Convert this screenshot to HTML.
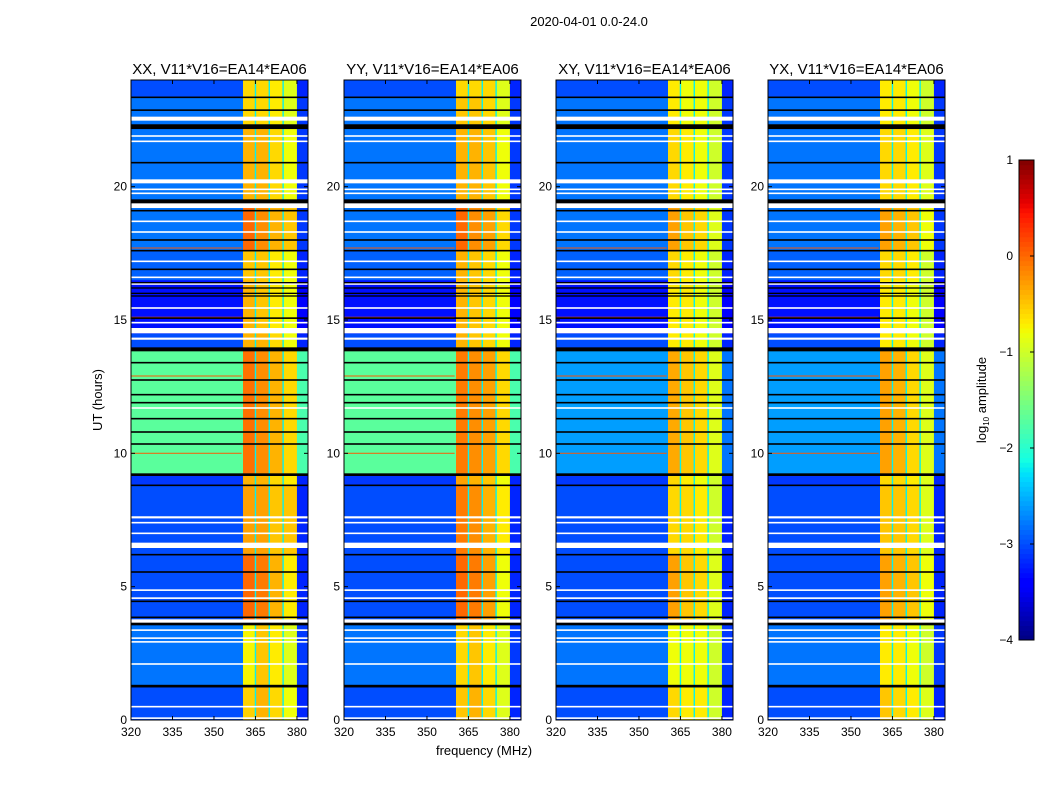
<!DOCTYPE html>
<html><head><meta charset="utf-8">
<style>
body{margin:0;background:#fff;}
svg text{font-family:"Liberation Sans",sans-serif;fill:#000;}
</style></head>
<body>
<svg id="fig" width="1050" height="800" viewBox="0 0 1050 800" xmlns="http://www.w3.org/2000/svg">
<rect width="1050" height="800" fill="#fff"/>
<text x="589" y="26" font-size="13" text-anchor="middle">2020-04-01 0.0-24.0</text>
<text x="484" y="755" font-size="13" text-anchor="middle">frequency (MHz)</text>
<text transform="translate(102,400) rotate(-90)" font-size="13" text-anchor="middle">UT (hours)</text>
<g id="panels"></g>
<g id="cbar"></g>
</svg>
<script>
// ---- data ----
const panelTitles = ["XX, V11*V16=EA14*EA06","YY, V11*V16=EA14*EA06","XY, V11*V16=EA14*EA06","YX, V11*V16=EA14*EA06"];
const freqEdges = [320,360.5,365,370,375,380,384];
const timeEdges = [0,1.27,3.6,6.2,8.8,9.2,13.9,14.5,16.5,17.6,19.4,21,22.2,23.35,24];
const panelXX = [
[-3.0,-0.55,-0.4,-0.6,-0.8,-3.2],[-2.8,-0.75,-0.5,-0.7,-0.9,-3.1],[-3.0,0.0,-0.1,-0.4,-0.7,-3.2],
[-3.0,-0.3,-0.3,-0.5,-0.5,-3.2],[-3.1,-0.4,-0.4,-0.6,-0.7,-3.2],[-1.7,-0.05,-0.2,-0.4,-0.6,-1.8],
[-3.0,-0.4,-0.4,-0.6,-0.8,-3.2],[-3.3,-0.4,-0.5,-0.7,-0.8,-3.4],[-2.9,-0.5,-0.5,-0.7,-0.8,-3.2],
[-2.8,0.0,-0.2,-0.4,-0.5,-3.1],[-2.8,-0.4,-0.4,-0.6,-0.8,-3.1],[-2.8,-0.4,-0.4,-0.6,-0.8,-3.1],
[-2.8,-0.6,-0.6,-0.7,-0.9,-3.1],[-3.0,-0.6,-0.6,-0.7,-0.9,-3.2]];
const panelYY = [
[-3.0,-0.5,-0.4,-0.6,-0.9,-3.2],[-2.8,-0.6,-0.5,-0.7,-0.9,-3.1],[-3.0,0.0,-0.1,-0.3,-0.8,-3.2],
[-3.0,-0.1,-0.2,-0.4,-0.7,-3.2],[-3.1,-0.3,-0.4,-0.5,-0.8,-3.2],[-1.7,-0.1,-0.2,-0.3,-0.6,-1.8],
[-3.0,-0.4,-0.5,-0.6,-0.8,-3.2],[-3.3,-0.4,-0.5,-0.6,-0.8,-3.4],[-2.9,-0.4,-0.5,-0.6,-0.8,-3.2],
[-2.8,0.0,-0.2,-0.3,-0.6,-3.1],[-2.8,-0.4,-0.4,-0.5,-0.8,-3.1],[-2.8,-0.4,-0.4,-0.5,-0.8,-3.1],
[-2.8,-0.5,-0.5,-0.6,-0.9,-3.1],[-3.0,-0.6,-0.6,-0.6,-0.9,-3.2]];
const panelXY = [
[-3.0,-0.6,-0.7,-0.7,-1.0,-3.2],[-2.8,-0.8,-0.8,-0.8,-1.0,-3.1],[-3.0,-0.3,-0.5,-0.6,-0.9,-3.2],
[-3.0,-0.6,-0.6,-0.7,-1.0,-3.2],[-3.1,-0.6,-0.7,-0.8,-1.0,-3.2],[-2.6,-0.35,-0.5,-0.6,-0.9,-2.8],
[-3.0,-0.7,-0.7,-0.8,-1.0,-3.2],[-3.3,-0.7,-0.7,-0.8,-1.0,-3.4],[-2.9,-0.6,-0.7,-0.8,-1.0,-3.2],
[-2.8,-0.3,-0.5,-0.6,-0.9,-3.1],[-2.8,-0.6,-0.7,-0.8,-1.0,-3.1],[-2.8,-0.6,-0.7,-0.8,-1.0,-3.1],
[-2.8,-0.7,-0.8,-0.8,-1.0,-3.1],[-3.0,-0.7,-0.8,-0.8,-1.0,-3.2]];
const panelYX = [
[-3.0,-0.5,-0.6,-0.7,-0.9,-3.2],[-2.8,-0.7,-0.7,-0.8,-1.0,-3.1],[-3.0,-0.3,-0.4,-0.5,-0.8,-3.2],
[-3.0,-0.5,-0.5,-0.6,-0.9,-3.2],[-3.1,-0.6,-0.6,-0.7,-0.9,-3.2],[-2.6,-0.3,-0.4,-0.6,-0.9,-2.8],
[-3.0,-0.7,-0.7,-0.8,-1.0,-3.2],[-3.3,-0.7,-0.7,-0.8,-1.0,-3.4],[-2.9,-0.6,-0.6,-0.7,-1.0,-3.2],
[-2.8,-0.3,-0.4,-0.5,-0.8,-3.1],[-2.8,-0.6,-0.6,-0.7,-0.9,-3.1],[-2.8,-0.6,-0.6,-0.7,-0.9,-3.1],
[-2.8,-0.7,-0.7,-0.8,-1.0,-3.1],[-3.0,-0.7,-0.7,-0.8,-1.0,-3.2]];
const panelValues = [panelXX,panelYY,panelXY,panelYX];
const separatorFreqs = [365,370,375];
const separatorValue = -2.2;
const rfiLineTimes = [10.0,12.9,15.1,17.7];
const rfiLineValue = 0.1;
const whiteRowTimes = [22.55,21.9,21.7,20.2,19.9,19.75,19.3,18.7,18.3,17.2,16.6,16.35,15.45,14.9,14.6,14.3,11.7,7.6,7.4,7.0,6.55,4.87,4.57,3.7,3.37,3.07,2.93,2.1,0.5,0.07];
const whiteRowWidths = [0.15,0.06,0.06,0.15,0.06,0.06,0.2,0.06,0.06,0.06,0.06,0.06,0.06,0.06,0.2,0.08,0.06,0.08,0.06,0.06,0.2,0.06,0.06,0.15,0.06,0.06,0.06,0.06,0.06,0.06];
const blackRowTimes = [23.35,22.87,22.25,20.9,19.45,19.1,18.0,17.6,16.9,16.4,16.2,16.0,15.9,15.07,13.9,13.4,12.75,12.2,11.9,11.3,10.8,10.35,9.2,8.8,6.2,5.55,4.45,3.85,3.6,1.27];
const blackRowWidths = [0.06,0.06,0.18,0.06,0.15,0.06,0.06,0.06,0.06,0.05,0.05,0.05,0.05,0.06,0.15,0.06,0.06,0.06,0.06,0.06,0.06,0.06,0.1,0.06,0.06,0.06,0.06,0.06,0.1,0.1];
const xTicks = [320,335,350,365,380];
const yTicks = [0,5,10,15,20];
const cbarTicks = [1,0,-1,-2,-3,-4];

// ---- geometry ----
const panelLefts = [131,344,556,768];
const pw = 177, axTop = 80, axBottom = 720;
const fMin = 320, fMax = 384, tMin = 0, tMax = 24, vMin = -4, vMax = 1;
const NS = "http://www.w3.org/2000/svg";
function xs(l,f){return l + (f-fMin)/(fMax-fMin)*pw;}
function ys(t){return axBottom - (t-tMin)/(tMax-tMin)*(axBottom-axTop);}
function interp(pts,x){for(let i=1;i<pts.length;i++){if(x<=pts[i][0]){const a=pts[i-1],b=pts[i];return a[1]+(b[1]-a[1])*(x-a[0])/(b[0]-a[0]);}}return pts[pts.length-1][1];}
function jet(v){
  let x=(v-vMin)/(vMax-vMin); x=Math.max(0,Math.min(1,x));
  const r=interp([[0,0],[0.35,0],[0.66,1],[0.89,1],[1,0.5]],x);
  const g=interp([[0,0],[0.125,0],[0.375,1],[0.64,1],[0.91,0],[1,0]],x);
  const b=interp([[0,0.5],[0.11,1],[0.34,1],[0.65,0],[1,0]],x);
  return `rgb(${Math.round(r*255)},${Math.round(g*255)},${Math.round(b*255)})`;
}
function mk(tag,attrs,parent){const e=document.createElementNS(NS,tag);for(const k in attrs)e.setAttribute(k,attrs[k]);parent.appendChild(e);return e;}

const panelsG = document.getElementById('panels');
panelValues.forEach((vals,p)=>{
  const L = panelLefts[p];
  const g = mk('g',{},panelsG);
  
  
  vals.forEach((row,ti)=>{
    row.forEach((v,fi)=>{
      const x0=xs(L,freqEdges[fi]), x1=xs(L,freqEdges[fi+1]);
      const y0=ys(timeEdges[ti+1]), y1=ys(timeEdges[ti]);
      const c=mk('rect',{x:x0,y:y0,width:x1-x0+0.3,height:y1-y0+0.3,fill:jet(v)},g);
      
      
    });
  });
  separatorFreqs.forEach(f=>{
    const s=mk('rect',{x:xs(L,f)-0.7,y:axTop,width:1.4,height:axBottom-axTop,fill:jet(separatorValue)},g);
    
    
  });
  rfiLineTimes.forEach(t=>{
    const s=mk('rect',{x:L,y:ys(t)-0.6,width:xs(L,360)-L,height:1.2,fill:jet(rfiLineValue),opacity:0.8},g);
    
    
  });
  whiteRowTimes.forEach((t,i)=>{
    const h=Math.max(1.2,whiteRowWidths[i]/(tMax-tMin)*(axBottom-axTop));
    const s=mk('rect',{x:L,y:ys(t)-h/2,width:pw,height:h,fill:'#fff'},g);
    
    
  });
  blackRowTimes.forEach((t,i)=>{
    const h=Math.max(1.2,blackRowWidths[i]/(tMax-tMin)*(axBottom-axTop));
    const s=mk('rect',{x:L,y:ys(t)-h/2,width:pw,height:h,fill:'#000'},g);
    
    
  });
  const fr=mk('rect',{x:L,y:axTop,width:pw,height:axBottom-axTop,fill:'none',stroke:'#000','stroke-width':1},g);
  
  
  const tt=mk('text',{x:L+pw/2,y:74,'font-size':15,'text-anchor':'middle'},g);
  tt.textContent=panelTitles[p];
  
  
  xTicks.forEach(f=>{
    const x=xs(L,f);
    mk('line',{x1:x,x2:x,y1:axBottom,y2:axBottom-4,stroke:'#000'},g);
    mk('line',{x1:x,x2:x,y1:axTop,y2:axTop+4,stroke:'#000'},g);
    const t=mk('text',{x:x,y:axBottom+16,'font-size':12,'text-anchor':'middle'},g);
    t.textContent=f;
    
    
  });
  yTicks.forEach(v=>{
    const y=ys(v);
    mk('line',{x1:L,x2:L+4,y1:y,y2:y,stroke:'#000'},g);
    mk('line',{x1:L+pw,x2:L+pw-4,y1:y,y2:y,stroke:'#000'},g);
    const t=mk('text',{x:L-4,y:y+4,'font-size':12,'text-anchor':'end'},g);
    t.textContent=v;
    
    
  });
});

// colorbar
const cb = document.getElementById('cbar');


const cbX=1019, cbW=15, cbTop=160, cbBot=640, steps=100;
for(let i=0;i<steps;i++){
  const v=vMin+(vMax-vMin)*(i+0.5)/steps;
  const y=cbBot-(i+1)/steps*(cbBot-cbTop);
  mk('rect',{x:cbX,y:y,width:cbW,height:(cbBot-cbTop)/steps+0.4,fill:jet(v)},cb);
}
mk('rect',{x:cbX,y:cbTop,width:cbW,height:cbBot-cbTop,fill:'none',stroke:'#000'},cb);
cbarTicks.forEach(v=>{
  const y=cbBot-(v-vMin)/(vMax-vMin)*(cbBot-cbTop);
  mk('line',{x1:cbX+cbW-4,x2:cbX+cbW,y1:y,y2:y,stroke:'#000'},cb);
  const t=mk('text',{x:1013,y:y+4,'font-size':12,'text-anchor':'end'},cb);
  t.textContent=v<0?'\u2212'+(-v):String(v);
  
  
});
const cl=mk('text',{transform:'translate(986,400) rotate(-90)','font-size':13,'text-anchor':'middle'},cb);
cl.innerHTML='log<tspan font-size="8" dy="3">10</tspan><tspan dy="-3"> amplitude</tspan>';


</script>
</body></html>
